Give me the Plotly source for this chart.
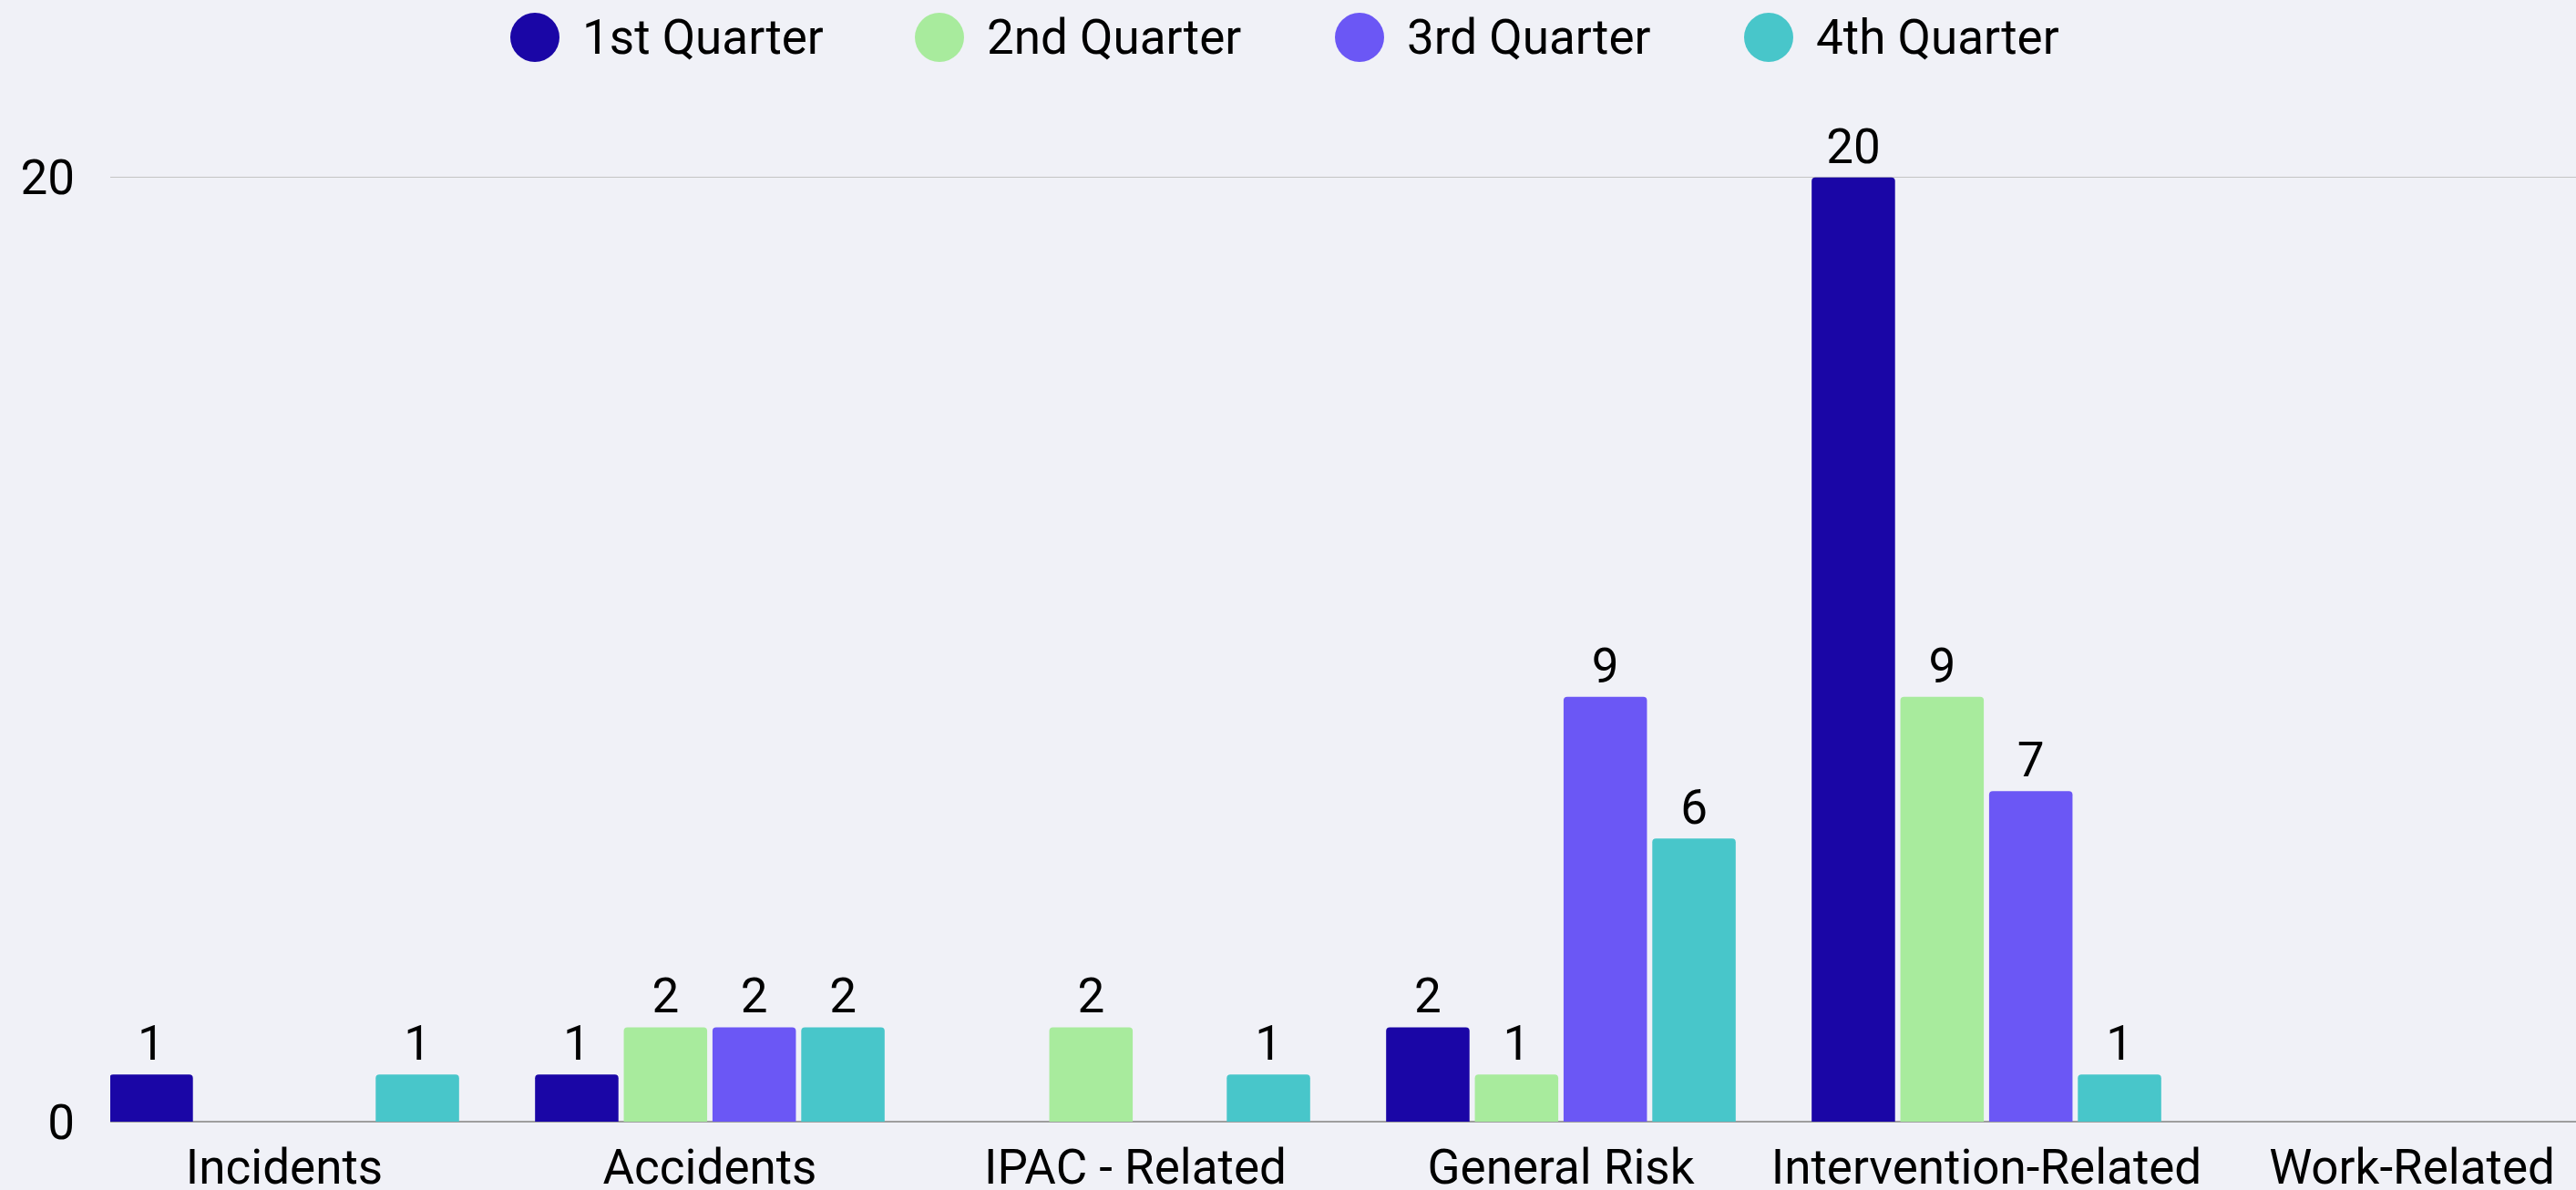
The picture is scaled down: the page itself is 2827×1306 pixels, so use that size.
import plotly.graph_objects as go

categories = ["Incidents", "Accidents", "IPAC - Related", "General Risk", "Intervention-Related", "Work-Related"]
series_names = ["1st Quarter", "2nd Quarter", "3rd Quarter", "4th Quarter"]
q1 = [1, 1, 0, 2, 20, 0]
q2 = [0, 2, 2, 1, 9, 0]
q3 = [0, 2, 0, 9, 7, 0]
q4 = [1, 2, 1, 6, 1, 0]
y_ticks = [0, 20]

colors = ["#1A06A6", "#A8EB9D", "#6B57F5", "#48C6CA"]
W, H = 2827, 1306
ML, MR, MT, MB = 121, 0, 143, 75
FONT = "Roboto"
FS = 53

fig = go.Figure()
for name, vals, col in zip(series_names, [q1, q2, q3, q4], colors):
    fig.add_trace(go.Bar(
        name=name, x=categories, y=vals, marker_color=col,
        marker_line_width=0,
        text=[str(v) if v else "" for v in vals],
        textposition="outside", cliponaxis=False,
        textfont=dict(family=FONT, size=FS, color="#000000"),
        showlegend=False,
    ))

# legend drawn as circles + text
leg_cx = [587, 1031, 1492, 1941]
leg_cy = 41
plot_w = W - ML - MR
plot_h = H - MT - MB
py = (H - MB - leg_cy) / plot_h
shapes = []
annotations = []
for name, col, cx in zip(series_names, colors, leg_cx):
    shapes.append(dict(type="circle", xref="paper", yref="paper",
                       xsizemode="pixel", ysizemode="pixel",
                       xanchor=(cx - ML) / plot_w, yanchor=py,
                       x0=-27, x1=27, y0=-27, y1=27,
                       fillcolor=col, line_width=0))
    annotations.append(dict(text=name, xref="paper", yref="paper",
                            x=(cx + 50 - ML) / plot_w, y=py,
                            xanchor="left", yanchor="middle", showarrow=False,
                            font=dict(family=FONT, size=FS, color="#000000")))

cat_w = 467.0
x0_center = 312.0
xr = [-(x0_center - ML) / cat_w, (W - MR - x0_center) / cat_w]

fig.update_layout(
    width=W, height=H,
    margin=dict(l=ML, r=MR, t=MT, b=MB, pad=0, autoexpand=False),
    paper_bgcolor="#F0F1F7", plot_bgcolor="#F0F1F7",
    barmode="group", bargap=0.166, bargroupgap=0.06,
    barcornerradius=4,
    font=dict(family=FONT, size=FS, color="#000000"),
    shapes=shapes, annotations=annotations,
    showlegend=False,
    xaxis=dict(range=xr, showgrid=False, showline=False, zeroline=False,
               automargin=False,
               ticks="", tickfont=dict(family=FONT, size=FS, color="#000000"),
               ticklabelstandoff=14),
    yaxis=dict(range=[0, 21], tickvals=y_ticks, showgrid=True,
               automargin=False,
               gridcolor="#C4C4C4", gridwidth=1,
               zeroline=True, zerolinecolor="#9E9E9E", zerolinewidth=2,
               showline=False, ticks="",
               tickfont=dict(family=FONT, size=FS, color="#000000"),
               ticklabelstandoff=38),
)

fig.write_html(
    "out.html",
    config={"displayModeBar": False},
    post_script=("document.body.style.margin='0';"
                 "document.body.style.overflow='hidden';"
                 "document.documentElement.style.overflow='hidden';"),
)
